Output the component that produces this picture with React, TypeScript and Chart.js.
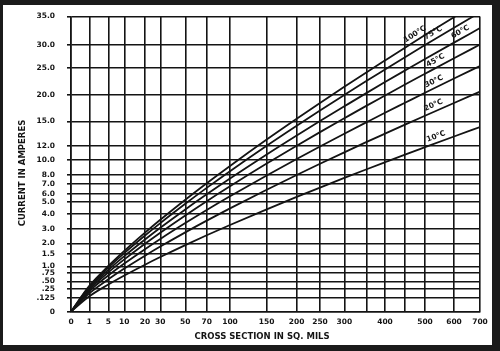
import React, { useEffect, useRef } from 'react';
import { Chart, registerables, LinearScale } from 'chart.js';

// ---- data ----
const crossSection = [0, 1, 5, 10, 20, 30, 50, 70, 100, 150, 200, 250, 300, 350, 400, 450, 500, 600, 700];
const xTickLabels = ['0', '1', '5', '10', '20', '30', '50', '70', '100', '150', '200', '250', '300', '', '400', '', '500', '600', '700'];
const currentTicks = [0, 0.125, 0.25, 0.5, 0.75, 1, 1.5, 2, 3, 4, 5, 6, 7, 8, 10, 12, 15, 20, 25, 30, 35];
const yTickLabels = ['0', '.125', '.25', '.50', '.75', '1.0', '1.5', '2.0', '3.0', '4.0', '5.0', '6.0', '7.0', '8.0', '10.0', '12.0', '15.0', '20.0', '25.0', '30.0', '35.0'];

const rise10 = [0, 0.147, 0.399, 0.677, 1.072, 1.376, 1.921, 2.574, 3.274, 4.375, 5.625, 6.625, 7.644, 8.747, 9.693, 10.755, 11.804, 13.142, 14.308];
const rise20 = [0, 0.19, 0.561, 0.921, 1.43, 1.85, 2.778, 3.553, 4.453, 6.413, 7.978, 9.48, 11.077, 12.474, 13.494, 14.6, 16.056, 18.444, 20.549];
const rise30 = [0, 0.221, 0.677, 1.117, 1.728, 2.315, 3.396, 4.316, 5.706, 7.927, 10.133, 11.902, 13.482, 14.903, 16.611, 18.481, 20.348, 22.985, 25.374];
const rise45 = [0, 0.247, 0.778, 1.283, 1.988, 2.758, 3.895, 5.091, 6.749, 9.509, 12.01, 13.679, 15.574, 17.944, 19.833, 21.868, 23.864, 27.093, 30.103];
const rise60 = [0, 0.287, 0.869, 1.412, 2.277, 3.094, 4.366, 5.955, 7.581, 10.78, 13.27, 15.065, 17.815, 20.33, 22.326, 24.469, 26.916, 30.448, 32.983];
const rise75 = [0, 0.328, 0.956, 1.541, 2.557, 3.394, 4.84, 6.593, 8.487, 12.005, 14.462, 17.031, 19.939, 22.564, 24.652, 27.313, 30.017, 33.034, 35.707];
const rise100 = [0, 0.358, 1.019, 1.645, 2.756, 3.608, 5.27, 7.05, 9.195, 12.765, 15.481, 18.444, 21.447, 24.158, 26.608, 29.449, 31.759, 34.879, 37.655];

const seriesList = [rise10, rise20, rise30, rise45, rise60, rise75, rise100];
const curveNames = ['10°C', '20°C', '30°C', '45°C', '60°C', '75°C', '100°C'];
const labelAnchor = [514, 507, 510, 517, 603, 510, 457];

// ---- axis calibration: fraction of axis length at each tick value (the printed grid is hand-spaced) ----
const xTickFrac = [71, 89.3, 108.3, 124.3, 145, 160.3, 185.3, 206.7, 230, 266.7, 296.7, 320, 344.3, 366.7, 385, 405, 425, 454, 480].map((p) => (p - 71) / 409);
const yTickFrac = [311.7, 297.7, 289, 281, 272.7, 266, 253.3, 242.7, 228.3, 212.7, 200.7, 192.7, 182.3, 173.3, 158.3, 144, 119.3, 92.3, 65, 42.3, 13.3].map((p) => (311.7 - p) / 298.4);

const calib: Record<string, { v: number[]; f: number[] }> = {
  x: { v: crossSection, f: xTickFrac },
  y: { v: currentTicks, f: yTickFrac },
};

function interp(xs: number[], ys: number[], x: number) {
  let i = 1;
  while (i < xs.length - 1 && x > xs[i]) i++;
  const x0 = xs[i - 1];
  const x1 = xs[i];
  const t = (x - x0) / (x1 - x0);
  return ys[i - 1] + t * (ys[i] - ys[i - 1]);
}

class PiecewiseScale extends LinearScale {
  static id = 'piecewise';
  static defaults = LinearScale.defaults;
  buildTicks() {
    const c = calib[(this as any).id];
    (this as any).min = c.v[0];
    (this as any).max = c.v[c.v.length - 1];
    return c.v.map((value) => ({ value }));
  }
  getPixelForValue(value: number) {
    const c = calib[(this as any).id];
    return (this as any).getPixelForDecimal(interp(c.v, c.f, value));
  }
  getValueForPixel(pixel: number) {
    const c = calib[(this as any).id];
    return interp(c.f, c.v, (this as any).getDecimalForPixel(pixel));
  }
}

Chart.register(...registerables, PiecewiseScale as any);

const INK = '#141414';
const FONT = '"DejaVu Sans", sans-serif';

const decorPlugin = {
  id: 'decor',
  beforeDraw(chart: any) {
    const ctx = chart.ctx;
    ctx.save();
    ctx.fillStyle = '#1b1b1b';
    ctx.fillRect(0, 0, chart.width, chart.height);
    ctx.fillStyle = '#ffffff';
    ctx.fillRect(3, 5, 489, 340);
    ctx.restore();
  },
  afterDraw(chart: any) {
    const ctx = chart.ctx;
    const xs = chart.scales.x;
    const ys = chart.scales.y;
    ctx.save();
    ctx.fillStyle = INK;
    ctx.font = 'bold 8.5px ' + FONT;
    ctx.textAlign = 'center';
    ctx.textBaseline = 'middle';
    ctx.fillText('CROSS SECTION IN SQ. MILS', 262, 337);
    ctx.save();
    ctx.translate(22.5, 173);
    ctx.rotate(-Math.PI / 2);
    ctx.fillText('CURRENT IN AMPERES', 0, 0);
    ctx.restore();
    ctx.font = 'bold 7.5px ' + FONT;
    ctx.textAlign = 'left';
    ctx.textBaseline = 'bottom';
    seriesList.forEach((s, i) => {
      const xa = labelAnchor[i];
      const xb = xa + 30;
      const px0 = xs.getPixelForValue(xa);
      const py0 = ys.getPixelForValue(interp(crossSection, s, xa));
      const px1 = xs.getPixelForValue(xb);
      const py1 = ys.getPixelForValue(interp(crossSection, s, xb));
      const ang = Math.atan2(py1 - py0, px1 - px0);
      ctx.save();
      ctx.translate(px0, py0);
      ctx.rotate(ang);
      ctx.fillText(curveNames[i], 0, -2.5);
      ctx.restore();
    });
    ctx.restore();
  },
};

export default function App() {
  const ref = useRef<HTMLCanvasElement>(null);
  useEffect(() => {
    if (!ref.current) return;
    const datasets = seriesList.map((s, i) => ({
      label: curveNames[i],
      data: crossSection.map((x, j) => ({ x, y: s[j] })),
      borderColor: INK,
      borderWidth: 1.8,
      pointRadius: 0,
      fill: false,
      cubicInterpolationMode: 'monotone' as const,
    }));
    const tickFont = { family: FONT, size: 7.5, weight: 'bold' as const };
    const chart = new Chart(ref.current, {
      type: 'line',
      data: { datasets },
      options: {
        responsive: false,
        animation: false,
        layout: { padding: { left: 0, top: 13.3, right: 20, bottom: 0 } },
        plugins: { legend: { display: false }, tooltip: { enabled: false } },
        scales: {
          x: {
            type: 'piecewise' as any,
            min: 0,
            max: 700,
            grid: { color: INK, lineWidth: 1.6, drawTicks: false, tickLength: 0 },
            border: { display: true, color: INK, width: 1.6 },
            ticks: {
              color: INK,
              font: tickFont,
              padding: 6,
              autoSkip: false,
              maxRotation: 0,
              minRotation: 0,
              callback: (_v: any, i: number) => xTickLabels[i],
            },
            afterFit: (scale: any) => {
              scale.height = 351 - 311.7;
            },
          } as any,
          y: {
            type: 'piecewise' as any,
            min: 0,
            max: 35,
            grid: { color: INK, lineWidth: 1.6, drawTicks: true, tickLength: 4 },
            border: { display: true, color: INK, width: 1.6 },
            ticks: {
              color: INK,
              font: tickFont,
              padding: 12,
              autoSkip: false,
              callback: (_v: any, i: number) => yTickLabels[i],
            },
            afterFit: (scale: any) => {
              scale.width = 71;
            },
          } as any,
        },
      },
      plugins: [decorPlugin],
    });
    return () => chart.destroy();
  }, []);
  return (
    <div style={{ position: 'absolute', left: 0, top: 0, width: 500, height: 351 }}>
      <canvas ref={ref} width={500} height={351} />
    </div>
  );
}
